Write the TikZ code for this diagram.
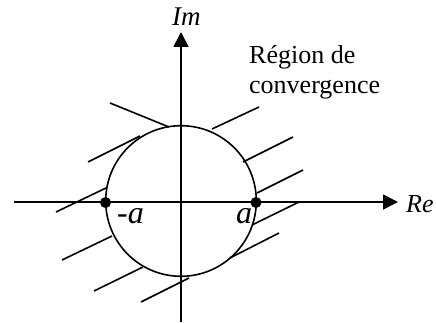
\documentclass[tikz,border=0pt]{standalone}
\usepackage{fontspec}
\setmainfont{Liberation Serif}
\usetikzlibrary{arrows.meta}
\begin{document}
\begin{tikzpicture}[x=1pt,y=-1pt,
  axis/.style={line width=1.6pt,-{Triangle[length=15pt,width=15pt]}},
  hatch/.style={line width=1.6pt},
  lbl/.style={inner sep=0pt,anchor=base west},
  pt/.style={circle,fill=black,inner sep=0pt,minimum size=11pt}]
\useasboundingbox (0,0) rectangle (436,323);
\coordinate (O) at (181,202);
\coordinate (xs) at (14,202);
\coordinate (xe) at (398,202);
\coordinate (ys) at (181,322);
\coordinate (ye) at (181,32);
\draw[axis] (xs) -- (xe);
\draw[axis] (ys) -- (ye);
\draw[line width=1.6pt] (181,201) circle[radius=75.3];
% hatch lines
\draw[hatch] (110,103) -- (169,127);
\draw[hatch] (88,162) -- (140,136);
\draw[hatch] (56,212) -- (106,188);
\draw[hatch] (62,260) -- (112,236);
\draw[hatch] (94,291) -- (143,267);
\draw[hatch] (141,302) -- (189,278);
\draw[hatch] (212,129) -- (259,107);
\draw[hatch] (243,162) -- (293,137);
\draw[hatch] (257,193) -- (303,170);
\draw[hatch] (252,225) -- (299,202);
\draw[hatch] (230,258) -- (279,233);
\node[pt] (pa) at (105.5,202.5) {};
\node[pt] (pb) at (256,202.5) {};
\node[lbl,font=\fontsize{32}{36}\selectfont\itshape] (la) at (117,223) {-a};
\node[lbl,font=\fontsize{32}{36}\selectfont\itshape] (lb) at (236,223) {a};
\node[lbl,font=\fontsize{27}{30}\selectfont\itshape] (im) at (172,26) {Im};
\node[lbl,font=\fontsize{26}{30}\selectfont\itshape] (re) at (406,212) {Re};
\node[lbl,font=\fontsize{26}{30}\selectfont,align=left] (reg) at (249,94) {Région de\\convergence};
\end{tikzpicture}
\end{document}
